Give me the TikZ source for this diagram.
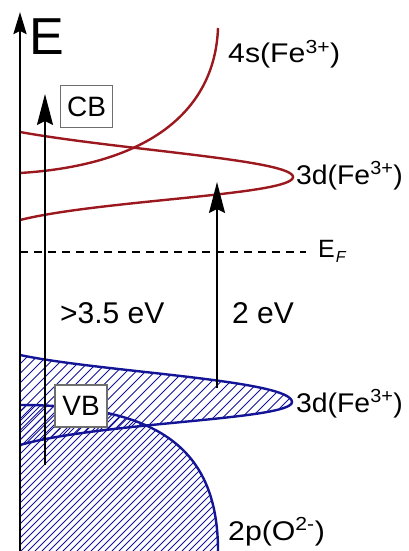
\documentclass[tikz,border=0pt]{standalone}
\usepackage{fontspec}
\setmainfont{Liberation Sans}
\usetikzlibrary{arrows.meta}
\definecolor{bandred}{RGB}{155,25,30}
\definecolor{bandblue}{RGB}{20,20,150}
\definecolor{boxgray}{RGB}{110,110,110}
\newcommand{\widetxt}[2][1.12]{\scalebox{#1}[1]{#2}}
\tikzset{
  redcurve/.style={draw=bandred, line width=2.4pt},
  bluecurve/.style={draw=bandblue, line width=2.4pt},
  hatchline/.style={draw=bandblue, line width=0.9pt},
  bigarrow/.style={line width=2pt, -{Stealth[length=31pt,width=16pt,inset=4pt]}},
  axisarrow/.style={line width=2.6pt, -{Stealth[length=22pt,width=13pt,inset=3pt]}},
  lbl/.style={inner sep=0pt, anchor=base west, font=\fontsize{27}{32}\selectfont},
  eflbl/.style={inner sep=0pt, anchor=base west, font=\fontsize{25}{30}\selectfont},
  gaplbl/.style={inner sep=0pt, anchor=base west, font=\fontsize{30}{36}\selectfont},
  bandbox/.style={draw=boxgray, line width=1.2pt, fill=white, inner sep=0pt,
    minimum width=52pt, minimum height=42pt, font=\fontsize{28}{32}\selectfont},
}
\begin{document}
\begin{tikzpicture}[x=1pt,y=-1pt]
\useasboundingbox (0,0) rectangle (409,551);
% hatching of 2p(O) band
\begin{scope}
  \clip (20,405) .. controls (160,405) and (218,450) .. (218,551) -- (20,551) -- cycle;
  \foreach \i in {-50,...,40} {
    \draw[hatchline] (\i*7,551) -- ++(260,-260);
  }
\end{scope}
% hatching of lower 3d band
\begin{scope}
  \clip (20,355) .. controls (100,372) and (292,380) .. (292,402)
        .. controls (292,420) and (100,422) .. (20,445) -- cycle;
  \foreach \i in {-20,...,40} {
    \draw[hatchline] (\i*9.5,460) -- ++(130,-130);
  }
\end{scope}
% blue curves
\draw[bluecurve] (20,405) .. controls (160,405) and (218,450) .. (218,551);
\draw[bluecurve] (20,355) .. controls (100,372) and (292,380) .. (292,402)
        .. controls (292,420) and (100,422) .. (20,445);
% red curves
\draw[redcurve] (20,173) .. controls (150,165) and (215,110) .. (218,28);
\draw[redcurve] (20,132) .. controls (120,150) and (293,160) .. (293,177)
        .. controls (293,195) and (100,200) .. (20,220);
% Fermi level
\coordinate (efL) at (20,252);
\coordinate (efR) at (306,252);
\draw[line width=1.5pt, dash pattern=on 8pt off 6pt] (efL) -- (efR);
% arrows
\coordinate (gapA0) at (45,465);
\coordinate (gapA1) at (45,94);
\coordinate (gapB0) at (217,388);
\coordinate (gapB1) at (217,182);
\draw[bigarrow] (gapA0) -- (gapA1);
\draw[bigarrow] (gapB0) -- (gapB1);
% axis
\coordinate (ax0) at (20,551);
\coordinate (ax1) at (20,12);
\draw[axisarrow] (ax0) -- (ax1);
% boxes
\node[bandbox] (cb) at (86.5,106.5) {CB};
\node[bandbox] (vb) at (81,406) {VB};
% labels
\node[inner sep=0pt, anchor=base west, font=\fontsize{52}{60}\selectfont] (elab) at (29,55) {E};
\node[lbl] (l4s) at (228,63) {\widetxt{4s(Fe\textsuperscript{3+})}};
\node[lbl] (l3dup) at (296,184) {\widetxt[1.05]{3d(Fe\textsuperscript{3+})}};
\node[eflbl] (lef) at (318,257) {E\kern1pt\raisebox{-5pt}{\fontsize{16}{16}\selectfont\itshape F}};
\node[lbl] (l3dlo) at (296,412) {\widetxt[1.05]{3d(Fe\textsuperscript{3+})}};
\node[lbl] (l2p) at (228,540) {\widetxt{2p(O\textsuperscript{2-})}};
\node[gaplbl] (g35) at (60,323) {>3.5 eV};
\node[gaplbl] (g2) at (232,323) {2 eV};
\end{tikzpicture}
\end{document}
